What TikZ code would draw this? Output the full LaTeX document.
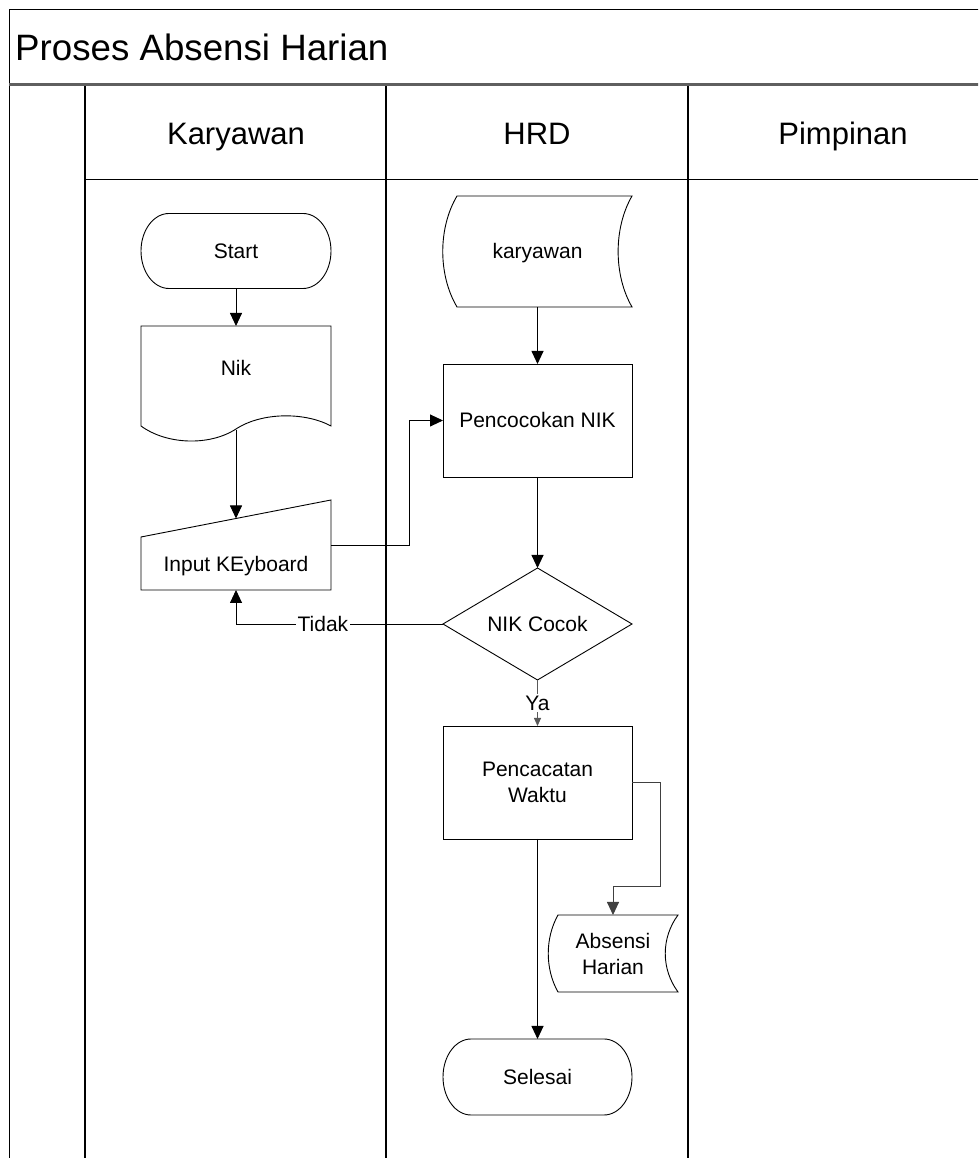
\documentclass[tikz,border=0pt]{standalone}
\usepackage{fontspec}
\setmainfont{Liberation Sans}
\usetikzlibrary{arrows.meta}
\begin{document}
\begin{tikzpicture}[x=1pt,y=1pt,
  ln/.style={line width=0.9pt,draw=black},
  lanel/.style={line width=1.3pt,draw=black},
  arr/.style={line width=0.9pt,draw=black,-{Triangle[length=13pt,width=12pt]}},
  garr/.style={line width=0.9pt,draw=black!75,-{Triangle[length=13pt,width=12pt]}},
  sarr/.style={line width=0.8pt,draw=black!65,-{Triangle[length=8pt,width=7pt]}},
  geo/.style={inner sep=0pt,outer sep=0pt,draw=none},
  tone/.style={font=\fontsize{21}{26}\selectfont,text height=15pt,text depth=0pt},
  ttwo/.style={font=\fontsize{21}{26}\selectfont,align=center},
  hdr/.style={font=\fontsize{31}{36}\selectfont,text height=22.2pt,text depth=0pt,inner sep=0pt},
  lbl/.style={font=\fontsize{21}{26}\selectfont,text height=15pt,text depth=0pt,fill=white,inner sep=1.5pt},
]
\useasboundingbox (0,0) rectangle (978,1158);
\fill[white] (0,0) rectangle (978,1158);
\begin{scope}
\clip (0,0) rectangle (978,1158);
\draw[ln] (9,-5) -- (9,1149) -- (990,1149);
\draw[ln] (85,979) -- (990,979);
\draw[lanel] (85,-5) -- (85,1074);
\draw[lanel] (386,-5) -- (386,1074);
\draw[lanel] (688,-5) -- (688,1074);
\draw[line width=3pt,draw={rgb,255:red,95;green,95;blue,95}] (9,1073.5) -- (990,1073.5);
\end{scope}

% title and lane headers
\node[anchor=west,inner sep=0pt,text height=26.3pt,text depth=0pt,font=\fontsize{36.7}{42}\selectfont] (title) at (15,1111) {Proses Absensi Harian};
\node[hdr] (hk) at (236,1025) {Karyawan};
\node[hdr] (hh) at (537,1025) {HRD};
\node[hdr] (hp) at (843,1025) {Pimpinan};

% Start
\node[geo,tone,minimum width=190pt,minimum height=75pt] (start) at (236,907) {Start};
\draw[ln] ([xshift=28pt]start.north west) -- ([xshift=-28pt]start.north east)
  arc[start angle=90,end angle=-90,x radius=28pt,y radius=37.5pt]
  -- ([xshift=28pt]start.south west)
  arc[start angle=270,end angle=90,x radius=28pt,y radius=37.5pt] -- cycle;

% Nik (document)
\node[geo,font=\fontsize{21}{26}\selectfont,text height=15pt,text depth=20pt,minimum width=190pt,minimum height=104pt] (nik) at (236,780) {Nik};
\draw[ln] (141,832) -- (331,832) -- (331,732) .. controls (305,746) and (262,746) .. (236,729)
  .. controls (210,712) and (167,713) .. (141,732) -- cycle;

% Input KEyboard (manual input)
\node[geo,font=\fontsize{21}{26}\selectfont,text height=53pt,text depth=0pt,minimum width=190pt,minimum height=90pt] (inp) at (236,613) {Input KEyboard};
\draw[ln] (141,568) -- (141,621) -- (331,658) -- (331,568) -- cycle;
\coordinate (inpN) at (236,639.5);

% karyawan (stored data)
\node[geo,tone,minimum width=189pt,minimum height=111pt] (kar) at (537.5,906.5) {karyawan};
\draw[ln] (457,962) -- (632,962) .. controls (613.5,930) and (613.5,883) .. (632,851)
  -- (457,851) .. controls (438,883) and (438,930) .. (457,962) -- cycle;

% Pencocokan NIK
\node[geo,tone,draw,line width=0.9pt,minimum width=189pt,minimum height=113pt] (pc) at (537.5,737.5) {Pencocokan NIK};

% NIK Cocok (decision)
\node[geo,tone,minimum width=189pt,minimum height=112pt] (dm) at (537.5,534) {NIK Cocok};
\draw[ln] (dm.north) -- (dm.east) -- (dm.south) -- (dm.west) -- cycle;

% Pencacatan Waktu
\node[geo,ttwo,draw,line width=0.9pt,minimum width=189pt,minimum height=113pt] (pw) at (537.5,375.5) {Pencacatan\\Waktu};

% Absensi Harian (stored data)
\node[geo,ttwo,minimum width=130pt,minimum height=77pt] (abs) at (613,204.5) {Absensi\\Harian};
\draw[ln] (558,243) -- (678,243) .. controls (661,220) and (661,189) .. (678,166)
  -- (558,166) .. controls (545,189) and (545,220) .. (558,243) -- cycle;

% Selesai
\node[geo,tone,minimum width=189pt,minimum height=76pt] (sel) at (537.5,81) {Selesai};
\draw[ln] ([xshift=28pt]sel.north west) -- ([xshift=-28pt]sel.north east)
  arc[start angle=90,end angle=-90,x radius=28pt,y radius=38pt]
  -- ([xshift=28pt]sel.south west)
  arc[start angle=270,end angle=90,x radius=28pt,y radius=38pt] -- cycle;

% connectors
\draw[arr] (start.south) -- (nik.north);
\draw[arr] (nik.south) -- (inpN);
\draw[arr] (inp.east) -- ++(78,0) |- (pc.west);
\draw[arr] (kar.south) -- (pc.north);
\draw[arr] (pc.south) -- (dm.north);
\draw[arr] (dm.west) -| (inp.south) node[lbl,pos=0.29] {Tidak};
\draw[sarr] (dm.south) -- (pw.north) node[lbl,midway] {Ya};
\draw[arr] (pw.south) -- (sel.north);
\draw[garr] (pw.east) -- ++(28,0) -- ++(0,-104) -| (abs.north);
\end{tikzpicture}
\end{document}
